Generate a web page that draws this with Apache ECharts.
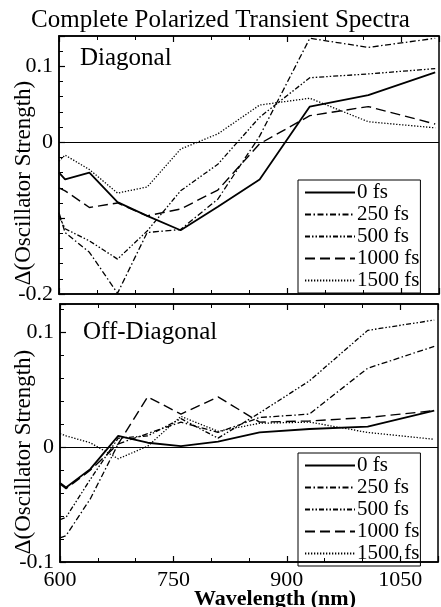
<!DOCTYPE html>
<html>
<head>
<meta charset="utf-8">
<script src="https://cdn.jsdelivr.net/npm/echarts@6/dist/echarts.min.js"></script>
<style>
html,body{margin:0;padding:0;background:#fff;}
#chart{width:441px;height:607px;}
</style>
</head>
<body>
<div id="chart"></div>
<script>
// ---- data ----
const wavelengths = [600, 608, 640, 677, 716, 760, 809, 864, 930, 1007, 1095];
const seriesNames = ['0 fs', '250 fs', '500 fs', '1000 fs', '1500 fs'];

const diag0    = [-0.040, -0.049, -0.040, -0.079, -0.097, -0.116, -0.085, -0.049, 0.047, 0.062, 0.092];
const diag250  = [-0.093, -0.119, -0.145, -0.199, -0.119, -0.115, -0.075, 0.008, 0.137, 0.125, 0.137];
const diag500  = [-0.097, -0.114, -0.130, -0.154, -0.117, -0.064, -0.029, 0.033, 0.085, 0.090, 0.097];
const diag1000 = [-0.060, -0.064, -0.086, -0.080, -0.097, -0.088, -0.063, -0.002, 0.035, 0.047, 0.024];
const diag1500 = [-0.025, -0.017, -0.036, -0.067, -0.059, -0.009, 0.011, 0.049, 0.058, 0.027, 0.019];

const off0    = [-0.031, -0.035, -0.019, 0.010, 0.004, 0.001, 0.005, 0.013, 0.016, 0.018, 0.032];
const off250  = [-0.079, -0.077, -0.045, 0.003, 0.012, 0.022, 0.013, 0.026, 0.029, 0.069, 0.088];
const off500  = [-0.063, -0.061, -0.028, 0.008, 0.010, 0.025, 0.008, 0.030, 0.058, 0.102, 0.111];
const off1000 = [-0.032, -0.036, -0.020, 0.003, 0.044, 0.029, 0.044, 0.022, 0.023, 0.026, 0.032];
const off1500 = [0.012, 0.010, 0.004, -0.010, 0.001, 0.027, 0.014, 0.021, 0.022, 0.013, 0.007];

const xTickLabels = [600, 750, 900, 1050];
const diagYTickLabels = [-0.2, 0, 0.1];
const offYTickLabels = [-0.1, 0, 0.1];

// ---- styles ----
const SERIF = "'Liberation Serif', 'Times New Roman', 'DejaVu Serif', serif";
const dashStyles = [
  {type: 'solid', width: 1.8},
  {type: [6, 2.5, 1.5, 2.5], width: 1.3},
  {type: [5, 2, 1.5, 2, 1.5, 2], width: 1.3},
  {type: [10, 5], width: 1.4},
  {type: [1.3, 1.7], width: 1.3}
];

function pairs(vals) { return wavelengths.map((w, i) => [w, vals[i]]); }
function fmtFactory(list) {
  return function (v) {
    for (const t of list) { if (Math.abs(v - t) < 1e-6) return String(t); }
    return '';
  };
}

const diagData = [diag0, diag250, diag500, diag1000, diag1500];
const offData = [off0, off250, off500, off1000, off1500];

const series = [];
[diagData, offData].forEach((set, gi) => {
  set.forEach((vals, si) => {
    const s = {
      name: seriesNames[si],
      type: 'line',
      xAxisIndex: gi * 2,
      yAxisIndex: gi,
      data: pairs(vals),
      symbol: 'none',
      silent: true,
      animation: false,
      lineStyle: Object.assign({color: '#000'}, dashStyles[si]),
      itemStyle: {color: '#000'},
      z: 3
    };
    if (si === 0) {
      s.markLine = {
        silent: true, symbol: ['none', 'none'], animation: false,
        label: {show: false},
        lineStyle: {color: '#000', type: 'solid', width: 1},
        data: [{yAxis: 0}]
      };
    }
    series.push(s);
  });
});

function xAxisDef(gridIndex, position, showLabels) {
  return {
    type: 'value', gridIndex: gridIndex, position: position,
    min: 600, max: 1100, interval: 150,
    axisLine: {show: true, onZero: false, lineStyle: {color: '#000', width: 1.5}},
    axisTick: {show: true, inside: true, length: 6, lineStyle: {color: '#000', width: 1.2}},
    minorTick: {show: true, splitNumber: 3, length: 4, lineStyle: {color: '#000', width: 1}},
    splitLine: {show: false},
    axisLabel: {show: showLabels, formatter: fmtFactory(xTickLabels), color: '#000',
      fontFamily: SERIF, fontSize: 22, margin: 7}
  };
}
function yAxisDef(gridIndex, min, max, labels) {
  return {
    type: 'value', gridIndex: gridIndex, min: min, max: max, interval: 0.1,
    axisLine: {show: true, onZero: false, lineStyle: {color: '#000', width: 1.5}},
    axisTick: {show: true, inside: true, length: 6, lineStyle: {color: '#000', width: 1.2}},
    minorTick: {show: true, splitNumber: 5, length: 4, lineStyle: {color: '#000', width: 1}},
    splitLine: {show: false},
    axisLabel: {formatter: fmtFactory(labels), color: '#000', fontFamily: SERIF, fontSize: 22, margin: 6}
  };
}
function legendDef(top) {
  return {
    data: seriesNames, orient: 'vertical', left: 298, top: top,
    borderColor: '#000', borderWidth: 1, padding: [2, 1, 2, 6],
    itemWidth: 50, itemHeight: 12, itemGap: 1,
    selectedMode: false,
    itemStyle: {opacity: 0, borderWidth: 0},
    textStyle: {fontFamily: SERIF, fontSize: 21, color: '#000', lineHeight: 18, padding: [0, 0, 0, -3]}
  };
}

const option = {
  backgroundColor: '#fff',
  animation: false,
  grid: [
    {left: 59, top: 36, width: 380, height: 258, show: true, borderColor: '#000', borderWidth: 1.5, backgroundColor: 'transparent'},
    {left: 60, top: 304, width: 379, height: 258, show: true, borderColor: '#000', borderWidth: 1.5, backgroundColor: 'transparent'}
  ],
  xAxis: [
    xAxisDef(0, 'bottom', false), xAxisDef(0, 'top', false),
    xAxisDef(1, 'bottom', true), xAxisDef(1, 'top', false)
  ],
  yAxis: [
    yAxisDef(0, -0.2, 0.14, diagYTickLabels),
    yAxisDef(1, -0.1, 0.125, offYTickLabels)
  ],
  legend: [legendDef(180), legendDef(453)],
  series: series,
  graphic: [
    {type: 'text', left: 'center', top: 8, style: {text: 'Complete Polarized Transient Spectra', font: "25px " + SERIF, fill: '#000'}},
    {type: 'text', x: 80, y: 46, style: {text: 'Diagonal', font: "25px " + SERIF, fill: '#000'}},
    {type: 'text', x: 83, y: 320, style: {text: 'Off-Diagonal', font: "25px " + SERIF, fill: '#000'}},
    {type: 'text', x: 24, y: 183, rotation: Math.PI / 2, style: {text: 'Δ(Oscillator Strength)', font: "23px " + SERIF, fill: '#000', align: 'center', verticalAlign: 'middle'}},
    {type: 'text', x: 24, y: 452, rotation: Math.PI / 2, style: {text: 'Δ(Oscillator Strength)', font: "23px " + SERIF, fill: '#000', align: 'center', verticalAlign: 'middle'}},
    {type: 'text', x: 275, y: 599, style: {text: 'Wavelength (nm)', font: "bold 22px " + SERIF, fill: '#000', align: 'center', verticalAlign: 'middle'}}
  ]
};

const chart = echarts.init(document.getElementById('chart'), null, {renderer: 'canvas'});
chart.setOption(option);
</script>
</body>
</html>
